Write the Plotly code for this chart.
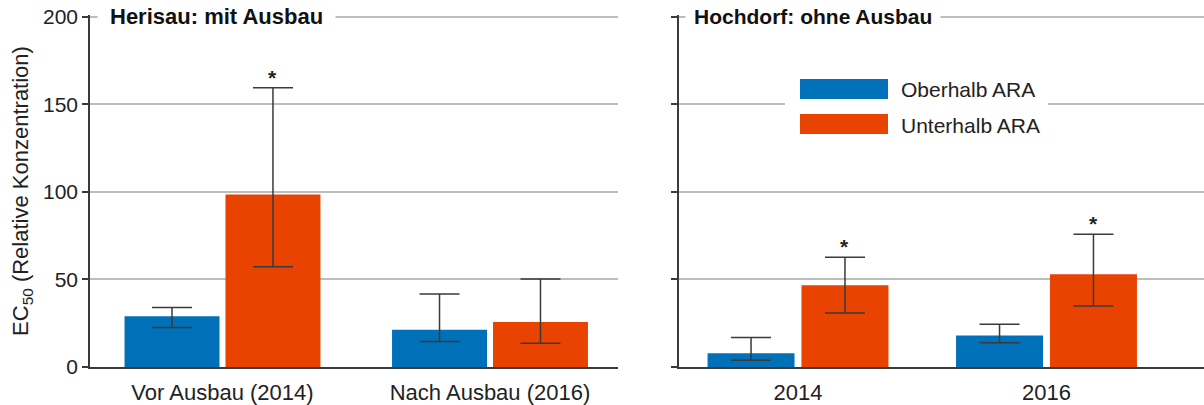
import plotly.graph_objects as go

# ---------------- data ----------------
cats_left = ["Vor Ausbau (2014)", "Nach Ausbau (2016)"]
cats_right = ["2014", "2016"]

ober_left = [29, 21.3]
ober_left_hi = [34, 41.7]
ober_left_lo = [22.5, 14.6]
unter_left = [98.5, 25.7]
unter_left_hi = [159.4, 50.3]
unter_left_lo = [57.2, 13.6]
unter_left_sig = [True, False]

ober_right = [7.9, 18]
ober_right_hi = [16.9, 24.4]
ober_right_lo = [3.9, 13.9]
unter_right = [46.7, 53]
unter_right_hi = [62.6, 75.8]
unter_right_lo = [30.8, 34.8]
unter_right_sig = [True, True]

series_names = ["Oberhalb ARA", "Unterhalb ARA"]
titles = ["Herisau: mit Ausbau", "Hochdorf: ohne Ausbau"]
y_title = "EC<sub>50</sub> (Relative Konzentration)"
y_ticks = [0, 50, 100, 150, 200]

# ---------------- style ----------------
BLUE = "#0070b8"
ORANGE = "#e84300"
DARK = "#3a3a3a"
GRID = "#bdbdbd"
FONT = "Liberation Sans, Arial, sans-serif"
W, H = 1204, 405
ML, MR, MT, MB = 90, 0, 15, 38
PW = W - ML - MR
PH = H - MT - MB
Y_MAX = 201


def px_x(p):
    return (p - ML) / PW


def px_y(p):
    return (H - MB - p) / PH


fig = go.Figure()


def add_panel(cats, ov, ohi, olo, uv, uhi, ulo, xa, ya, w, g):
    for vals, hi, lo, col, name, off in [
        (ov, ohi, olo, BLUE, series_names[0], -(w + g / 2)),
        (uv, uhi, ulo, ORANGE, series_names[1], g / 2),
    ]:
        fig.add_trace(go.Bar(
            x=cats, y=vals, name=name, marker_color=col, marker_line_width=0,
            width=w, offset=off, xaxis=xa, yaxis=ya, showlegend=False,
            hoverinfo="skip",
            error_y=dict(type="data", symmetric=False,
                         array=[h - v for h, v in zip(hi, vals)],
                         arrayminus=[v - l for v, l in zip(vals, lo)],
                         color=DARK, thickness=1.5, width=20),
        ))


add_panel(cats_left, ober_left, ober_left_hi, ober_left_lo,
          unter_left, unter_left_hi, unter_left_lo, "x", "y", 0.355, 0.0224)
add_panel(cats_right, ober_right, ober_right_hi, ober_right_lo,
          unter_right, unter_right_hi, unter_right_lo, "x2", "y2", 0.350, 0.028)

# significance asterisks
for i, (s, hi) in enumerate(zip(unter_left_sig, unter_left_hi)):
    if s:
        fig.add_annotation(x=i + 0.0224 / 2 + 0.355 / 2, y=hi, xref="x", yref="y",
                           text="<b>*</b>", showarrow=False, yanchor="bottom", yshift=-3,
                           font=dict(family=FONT, size=21, color="#222"))
for i, (s, hi) in enumerate(zip(unter_right_sig, unter_right_hi)):
    if s:
        fig.add_annotation(x=i + 0.028 / 2 + 0.350 / 2, y=hi, xref="x2", yref="y2",
                           text="<b>*</b>", showarrow=False, yanchor="bottom", yshift=-3,
                           font=dict(family=FONT, size=21, color="#222"))

# panel titles (white background breaks the top grid line)
fig.add_annotation(x=px_x(97), y=200, xref="paper", yref="y", xanchor="left",
                   text="<b>" + titles[0] + "</b>", showarrow=False,
                   bgcolor="white", borderpad=12,
                   font=dict(family=FONT, size=22, color="#111"))
fig.add_annotation(x=px_x(685), y=200, xref="paper", yref="y2", xanchor="left",
                   text="<b>" + titles[1] + "</b>", showarrow=False,
                   bgcolor="white", borderpad=8,
                   font=dict(family=FONT, size=21, color="#111"))

# legend (drawn)
fig.add_shape(type="rect", xref="paper", yref="paper",
              x0=px_x(785), x1=px_x(1048), y0=px_y(145), y1=px_y(70),
              fillcolor="white", line_width=0, layer="above")
for k, (col, name) in enumerate(zip([BLUE, ORANGE], series_names)):
    yc = 89 + 35 * k
    fig.add_shape(type="rect", xref="paper", yref="paper",
                  x0=px_x(800), x1=px_x(888), y0=px_y(yc + 10), y1=px_y(yc - 10),
                  fillcolor=col, line_width=0, layer="above")
    fig.add_annotation(x=px_x(899), y=px_y(yc + 1), xref="paper", yref="paper",
                       xanchor="left", yanchor="middle", text=name, showarrow=False,
                       font=dict(family=FONT, size=21, color="#222"))

ax_common = dict(showgrid=False, showline=True, linecolor=DARK, linewidth=1.5,
                 ticks="", tickfont=dict(family=FONT, size=22, color="#222"),
                 ticklabelstandoff=5, fixedrange=True, automargin=False)
ay_common = dict(range=[0, Y_MAX], tickvals=y_ticks, showgrid=True, gridcolor=GRID,
                 gridwidth=1.5, showline=True, linecolor=DARK, linewidth=1.5,
                 ticks="outside", ticklen=6, tickcolor=DARK, tickwidth=1.5,
                 zeroline=False, automargin=False, fixedrange=True,
                 tickfont=dict(family=FONT, size=21, color="#222"))

fig.update_layout(
    width=W, height=H, margin=dict(l=ML, r=MR, t=MT, b=MB, autoexpand=False),
    paper_bgcolor="white", plot_bgcolor="white", barmode="overlay",
    hovermode=False,
    xaxis=dict(domain=[0, px_x(618)], range=[-0.4953, 1.4785], **ax_common),
    xaxis2=dict(domain=[px_x(679), 1], range=[-0.4789, 1.6338], anchor="y2", **ax_common),
    yaxis=dict(title=dict(text=y_title, font=dict(family=FONT, size=22, color="#222"),
                          standoff=8), **ay_common),
    yaxis2=dict(anchor="x2", showticklabels=False, **ay_common),
    font=dict(family=FONT),
)

fig.write_html("out.html", config={"displayModeBar": False},
               post_script="document.body.style.margin='0';document.body.style.padding='0';")
